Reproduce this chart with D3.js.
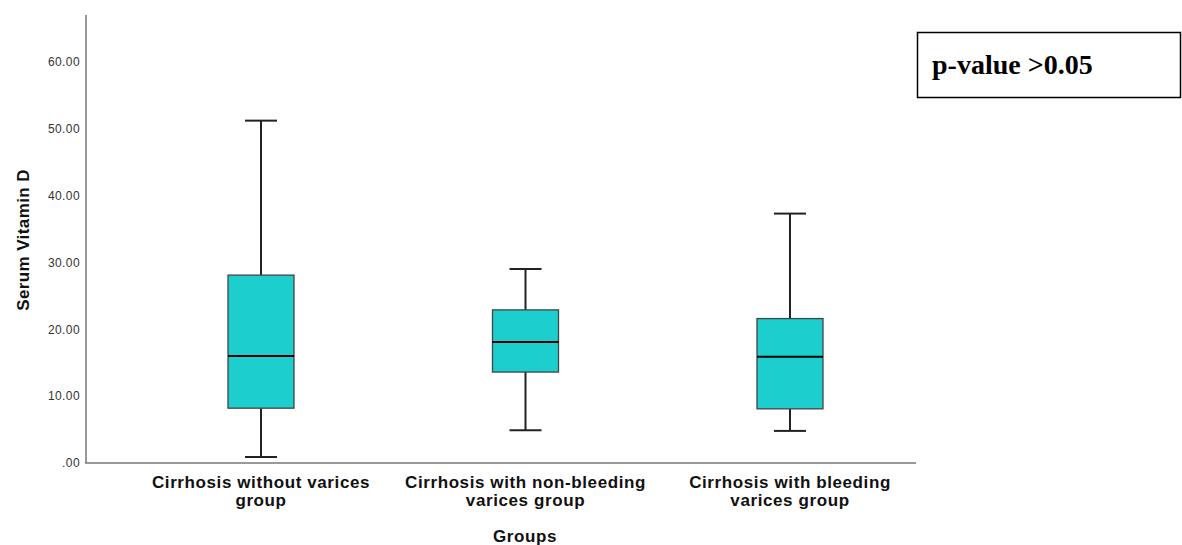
<!DOCTYPE html>
<html>
<head>
<meta charset="utf-8">
<script src="https://cdn.jsdelivr.net/npm/d3@7"></script>
<style>
  body { margin: 0; background: #fff; }
  text { font-family: "Liberation Sans", Arial, sans-serif; }
</style>
</head>
<body>
<div id="chart"></div>
<script>
// data
const groups = [
  ["Cirrhosis without varices", "group"],
  ["Cirrhosis with non-bleeding", "varices group"],
  ["Cirrhosis with bleeding", "varices group"],
];
const mins = [0.9, 4.9, 4.8];
const q1s = [8.2, 13.6, 8.1];
const medians = [16.0, 18.1, 15.9];
const q3s = [28.1, 22.9, 21.6];
const maxs = [51.2, 29.0, 37.3];
const yTicks = [0, 10, 20, 30, 40, 50, 60];

const W = 1182, H = 545;
const svg = d3.select("#chart").append("svg")
  .attr("width", W).attr("height", H);

const plotLeft = 86, plotRight = 916, plotTop = 15, plotBottom = 463;

var y = d3.scaleLinear().domain([0, 67]).range([plotBottom, plotTop]);
var x = d3.scalePoint()
  .domain(d3.range(groups.length))
  .range([261, 790]);

// axes
const yAxis = svg.append("g")
  .attr("transform", "translate(" + plotLeft + ",0)")
  .call(d3.axisLeft(y).tickValues(yTicks).tickSize(0).tickPadding(6)
    .tickFormat(d => d === 0 ? ".00" : d3.format(".2f")(d)));
yAxis.select(".domain").remove();
yAxis.selectAll("text")
  .attr("font-size", 12).attr("fill", "#333")
  .attr("letter-spacing", 0.4)
  .style("font-family", "'Liberation Sans', Arial, sans-serif");

svg.append("line")
  .attr("x1", plotLeft).attr("x2", plotLeft)
  .attr("y1", plotTop).attr("y2", plotBottom)
  .attr("stroke", "#999").attr("stroke-width", 2);
svg.append("line")
  .attr("x1", plotLeft - 1).attr("x2", plotRight)
  .attr("y1", plotBottom).attr("y2", plotBottom)
  .attr("stroke", "#777").attr("stroke-width", 1.5);

// boxes
const boxW = 66, capW = 32;
const rows = groups.map((g, i) => ({
  i, min: mins[i], q1: q1s[i], med: medians[i], q3: q3s[i], max: maxs[i],
}));
const g = svg.selectAll(".box").data(rows).enter().append("g").attr("class", "box");

g.append("line") // upper whisker
  .attr("x1", d => x(d.i)).attr("x2", d => x(d.i))
  .attr("y1", d => y(d.max)).attr("y2", d => y(d.q3))
  .attr("stroke", "#222").attr("stroke-width", 2);
g.append("line") // lower whisker
  .attr("x1", d => x(d.i)).attr("x2", d => x(d.i))
  .attr("y1", d => y(d.q1)).attr("y2", d => y(d.min))
  .attr("stroke", "#222").attr("stroke-width", 2);
g.append("line")
  .attr("x1", d => x(d.i) - capW / 2).attr("x2", d => x(d.i) + capW / 2)
  .attr("y1", d => y(d.max)).attr("y2", d => y(d.max))
  .attr("stroke", "#222").attr("stroke-width", 2);
g.append("line")
  .attr("x1", d => x(d.i) - capW / 2).attr("x2", d => x(d.i) + capW / 2)
  .attr("y1", d => y(d.min)).attr("y2", d => y(d.min))
  .attr("stroke", "#222").attr("stroke-width", 2);
g.append("rect")
  .attr("x", d => x(d.i) - boxW / 2).attr("width", boxW)
  .attr("y", d => y(d.q3)).attr("height", d => y(d.q1) - y(d.q3))
  .attr("fill", "#1ccece").attr("stroke", "#444").attr("stroke-width", 1.3);
g.append("line")
  .attr("x1", d => x(d.i) - boxW / 2).attr("x2", d => x(d.i) + boxW / 2)
  .attr("y1", d => y(d.med)).attr("y2", d => y(d.med))
  .attr("stroke", "#000").attr("stroke-width", 2);

// category labels
const lab = svg.selectAll(".cat").data(groups).enter().append("text")
  .attr("class", "cat")
  .attr("text-anchor", "middle")
  .attr("font-size", 17).attr("font-weight", "bold").attr("fill", "#111")
  .attr("letter-spacing", 0.6)
  .attr("transform", (d, i) => "translate(" + x(i) + ",488)");
lab.selectAll("tspan").data(d => d).enter().append("tspan")
  .attr("x", 0).attr("dy", (d, j) => j === 0 ? 0 : 17.5)
  .text(d => d);

// axis titles
svg.append("text")
  .attr("text-anchor", "middle")
  .attr("x", 525).attr("y", 542)
  .attr("font-size", 17).attr("font-weight", "bold").attr("fill", "#111")
  .attr("letter-spacing", 0.6)
  .text("Groups");
svg.append("text")
  .attr("text-anchor", "middle")
  .attr("transform", "translate(29,240) rotate(-90)")
  .attr("font-size", 17).attr("font-weight", "bold").attr("fill", "#111")
  .attr("letter-spacing", 0.4)
  .text("Serum Vitamin D");

// p-value box
svg.append("rect")
  .attr("x", 917.5).attr("y", 32.5).attr("width", 263).attr("height", 65)
  .attr("fill", "#fff").attr("stroke", "#000").attr("stroke-width", 1.5);
svg.append("text")
  .attr("x", 932).attr("y", 74)
  .attr("font-size", 28).attr("font-weight", "bold")
  .style("font-family", "'Liberation Serif', 'Times New Roman', serif")
  .text("p-value >0.05");
</script>
</body>
</html>
